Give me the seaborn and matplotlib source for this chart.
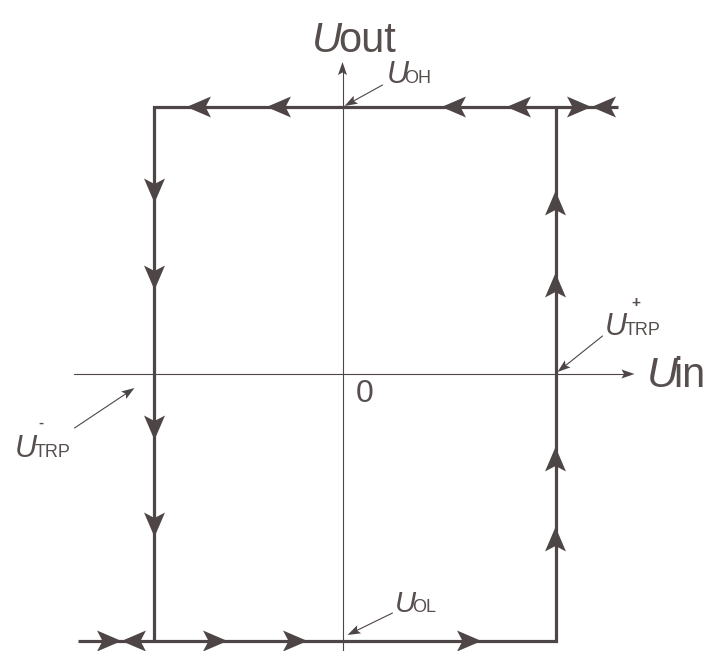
import numpy as np
import pandas as pd
import matplotlib
matplotlib.use("Agg")
import matplotlib.pyplot as plt
from matplotlib.patches import Polygon
import seaborn as sns

INK = "#4e4646"
TXT = "#574e4e"

# switching levels (arbitrary units)
u_oh = 2.67
u_ol = -2.67
u_trp_pos = 2.13
u_trp_neg = -1.88

# the two branches of the loop
upper_x = [2.75, u_trp_neg, u_trp_neg]
upper_y = [u_oh, u_oh, u_ol]
lower_x = [-2.64, u_trp_pos, u_trp_pos]
lower_y = [u_ol, u_ol, u_oh]

# direction arrows on the loop (tip positions)
top_tips = [-1.56, -0.76, 0.99, 1.64]      # pointing left
bottom_tips = [-1.15, -0.35, 1.39]         # pointing right
left_tips = [1.71, 0.84, -0.66, -1.63]     # pointing down
right_tips = [1.83, 1.01, -0.73, -1.53]    # pointing up
top_bowtie = 2.49
bottom_bowtie = -2.21

# axes extent
x_axis = [-2.68, 2.92]
y_axis = [-2.80, 3.12]


def head(ax, tip, d, length=0.245, hw=0.105, notch=0.055, color=INK):
    tip = np.asarray(tip, float)
    d = np.asarray(d, float)
    perp = np.array([-d[1], d[0]])
    back = tip - d * length
    verts = [tip, back + perp * hw, tip - d * (length - notch), back - perp * hw]
    ax.add_patch(Polygon(verts, closed=True, facecolor=color, edgecolor="none", zorder=5))


def pointer(ax, start, tip):
    start = np.asarray(start, float)
    tip = np.asarray(tip, float)
    d = (tip - start) / np.linalg.norm(tip - start)
    ax.plot([start[0], tip[0] - d[0] * 0.05], [start[1], tip[1] - d[1] * 0.05],
            color=INK, lw=0.8, zorder=4)
    head(ax, tip, d, length=0.13, hw=0.045, notch=0.025)


def label(ax, x, y, sub, size, sub_size, sub_dx, sup=None, sup_xy=None):
    ax.text(x, y, "U", fontsize=size, style="italic", color=TXT,
            ha="left", va="baseline")
    ax.text(x + sub_dx, y, sub, fontsize=sub_size, color=TXT,
            ha="left", va="baseline")
    if sup is not None:
        ax.text(sup_xy[0], sup_xy[1], sup, fontsize=sub_size * 0.85, color=TXT,
                ha="center", va="center", fontweight="bold")


def main():
    sns.set_theme(style="white")
    plt.rcParams["font.family"] = ["Liberation Sans", "DejaVu Sans"]

    fig = plt.figure(figsize=(7.05, 6.51), dpi=100)
    ax = fig.add_axes([0, 0, 1, 1])

    loop = pd.DataFrame({
        "x": upper_x + lower_x,
        "y": upper_y + lower_y,
        "branch": ["upper"] * len(upper_x) + ["lower"] * len(lower_x),
    })
    sns.lineplot(data=loop, x="x", y="y", units="branch", estimator=None, sort=False,
                 color=INK, lw=2.3, ax=ax, solid_joinstyle="miter", solid_capstyle="butt")

    # coordinate axes
    ax.plot([x_axis[0], x_axis[1] - 0.05], [0, 0], color=INK, lw=0.8)
    ax.plot([0, 0], [y_axis[0], y_axis[1] - 0.05], color=INK, lw=0.8)
    head(ax, (x_axis[1], 0), (1, 0), length=0.13, hw=0.045, notch=0.025)
    head(ax, (0, y_axis[1]), (0, 1), length=0.13, hw=0.045, notch=0.025)

    # direction arrows
    for t in top_tips:
        head(ax, (t, u_oh), (-1, 0))
    for t in bottom_tips:
        head(ax, (t, u_ol), (1, 0))
    for t in left_tips:
        head(ax, (u_trp_neg, t), (0, -1))
    for t in right_tips:
        head(ax, (u_trp_pos, t), (0, 1))
    head(ax, (top_bowtie, u_oh), (1, 0))
    head(ax, (top_bowtie, u_oh), (-1, 0))
    head(ax, (bottom_bowtie, u_ol), (1, 0))
    head(ax, (bottom_bowtie, u_ol), (-1, 0))

    # axis titles
    ax.text(-0.305, 3.22, "U", fontsize=30, style="italic", color=TXT, ha="left", va="baseline")
    ax.text(-0.04, 3.22, "out", fontsize=30, color=TXT, ha="left", va="baseline")
    ax.text(3.04, -0.13, "U", fontsize=31, style="italic", color=TXT, ha="left", va="baseline")
    ax.text(3.31, -0.13, "in", fontsize=30, color=TXT, ha="left", va="baseline")
    ax.text(0.22, -0.285, "0", fontsize=23, color=TXT, ha="center", va="baseline")

    # level labels and pointers
    label(ax, 0.44, 2.91, "OH", 22, 13, 0.18)
    pointer(ax, (0.40, 2.89), (0.02, 2.68))

    label(ax, 2.62, 0.39, "TRP", 22, 13, 0.2, sup="+", sup_xy=(2.93, 0.71))
    pointer(ax, (2.60, 0.38), (2.15, 0.02))

    label(ax, -3.28, -0.83, "TRP", 22, 13, 0.2, sup="-", sup_xy=(-3.02, -0.49))
    pointer(ax, (-2.68, -0.54), (-2.08, -0.14))

    label(ax, 0.52, -2.38, "OL", 21, 13, 0.175)
    pointer(ax, (0.50, -2.39), (0.05, -2.61))

    ax.set_xlim(-3.425, 3.625)
    ax.set_ylim(-2.77, 3.74)
    ax.set_axis_off()
    fig.savefig("out.png", dpi=100, facecolor="white")
    plt.close(fig)


if __name__ == "__main__":
    main()
